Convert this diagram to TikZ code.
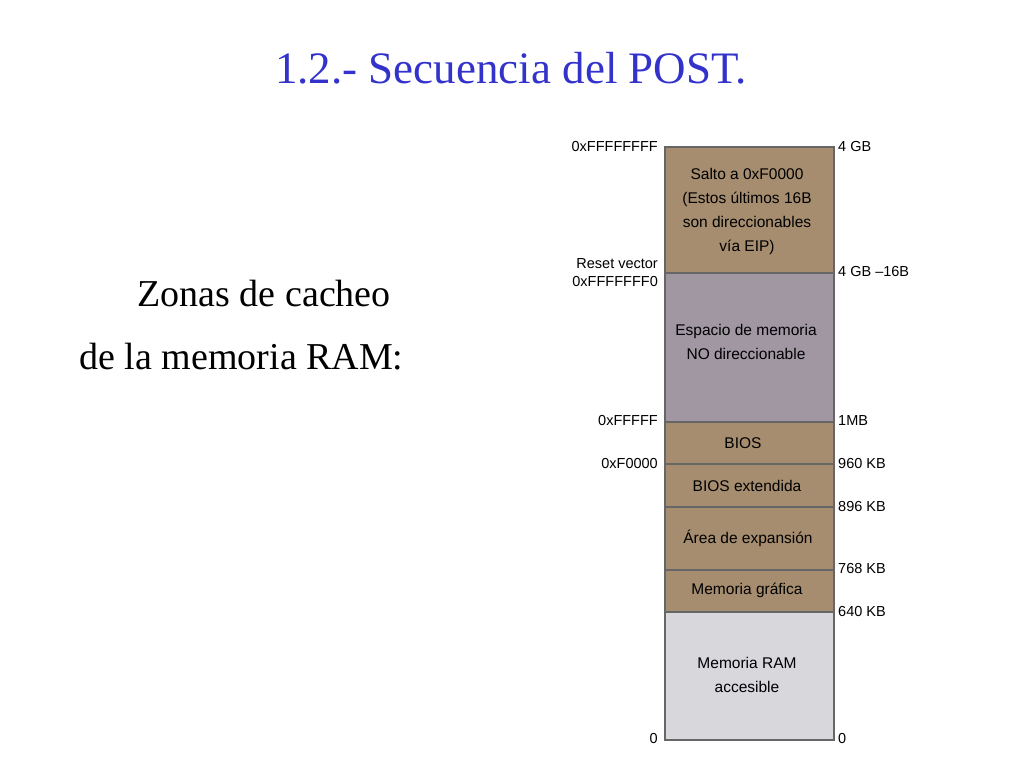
\documentclass[tikz,border=0pt]{standalone}
\usepackage{fontspec}
\setmainfont{Liberation Serif}
\newfontfamily\arialf{Liberation Sans}
\definecolor{tan}{RGB}{166,141,111}
\definecolor{purp}{RGB}{160,151,163}
\definecolor{lgray}{RGB}{216,216,220}
\definecolor{ttl}{RGB}{51,51,204}
\begin{document}
\begin{tikzpicture}[x=1pt,y=-1pt,
 seg/.style={draw=black!60,line width=1.2pt,inner sep=0pt,outer sep=0pt},
 lab/.style={font=\arialf\fontsize{14.5}{16}\selectfont,inner sep=1pt},
 inl/.style={font=\arialf\fontsize{15.5}{24}\selectfont,align=center}]
\path[use as bounding box] (0,0) rectangle (1024,768);
\node[ttl,font=\fontsize{45}{50}\selectfont] (title) at (511,68) {1.2.- Secuencia del POST.};
\node[font=\fontsize{38}{44}\selectfont,anchor=west] (z1) at (134,293) {Zonas de cacheo};
\node[font=\fontsize{38}{44}\selectfont,anchor=west] (z2) at (76,357) {de la memoria RAM:};
\def\L{665}\def\R{834}
\filldraw[seg,fill=tan] (\L,147) rectangle (\R,273);
\filldraw[seg,fill=purp] (\L,273) rectangle (\R,422);
\filldraw[seg,fill=tan] (\L,422) rectangle (\R,464);
\filldraw[seg,fill=tan] (\L,464) rectangle (\R,507);
\filldraw[seg,fill=tan] (\L,507) rectangle (\R,570);
\filldraw[seg,fill=tan] (\L,570) rectangle (\R,612);
\filldraw[seg,fill=lgray] (\L,612) rectangle (\R,740);
\node[inl] (s1) at (747,211) {Salto a 0xF0000\\(Estos últimos 16B\\son direccionables\\vía EIP)};
\node[inl] (s2) at (746,342) {Espacio de memoria\\NO direccionable};
\node[inl] (s3) at (743,443) {BIOS};
\node[inl] (s4) at (747,486) {BIOS extendida};
\node[inl] (s5) at (748,538) {Área de expansión};
\node[inl] (s6) at (747,590) {Memoria gráfica};
\node[inl] (s7) at (747,675) {Memoria RAM\\accesible};
\node[lab,anchor=east] (l1) at (659,147) {0xFFFFFFFF};
\node[lab,anchor=east] (l2a) at (659,264) {Reset vector};
\node[lab,anchor=east] (l2) at (659,282) {0xFFFFFFF0};
\node[lab,anchor=east] (l3) at (659,421) {0xFFFFF};
\node[lab,anchor=east] (l4) at (659,464) {0xF0000};
\node[lab,anchor=east] (l5) at (659,738) {0};
\node[lab,anchor=west] (r1) at (837,147) {4 GB};
\node[lab,anchor=west] (r2) at (837,272) {4 GB –16B};
\node[lab,anchor=west] (r3) at (837,421) {1MB};
\node[lab,anchor=west] (r4) at (837,464) {960 KB};
\node[lab,anchor=west] (r5) at (837,507) {896 KB};
\node[lab,anchor=west] (r6) at (837,569) {768 KB};
\node[lab,anchor=west] (r7) at (837,611) {640 KB};
\node[lab,anchor=west] (r8) at (837,738) {0};
\end{tikzpicture}
\end{document}
